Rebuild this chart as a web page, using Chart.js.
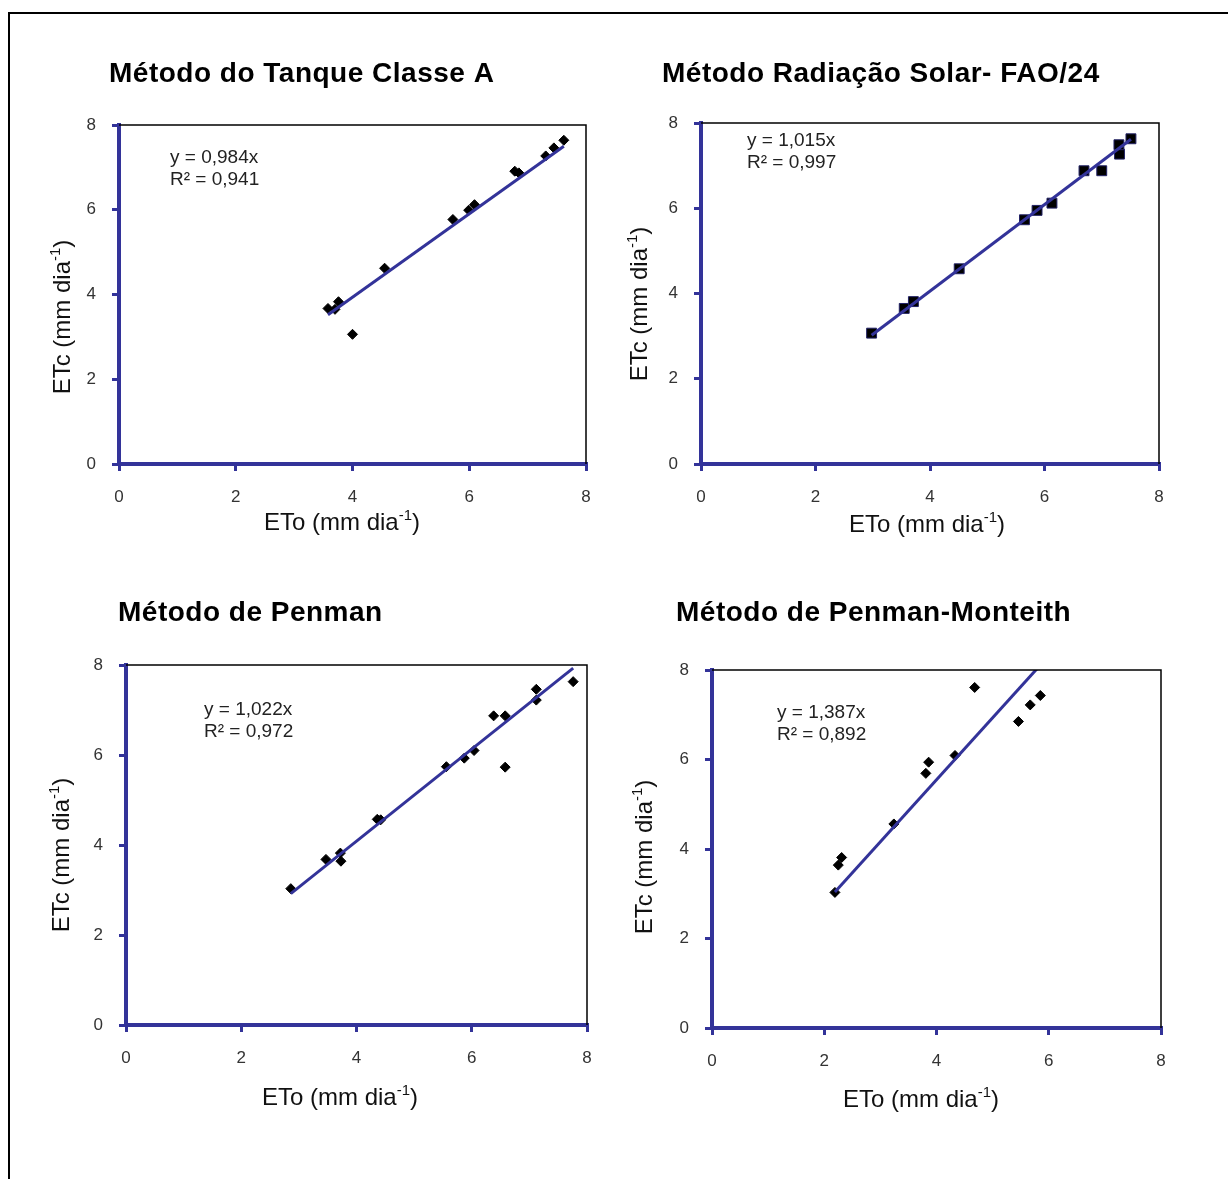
<!DOCTYPE html>
<html>
<head>
<meta charset="utf-8">
<script src="https://cdn.jsdelivr.net/npm/chart.js@4.4.1/dist/chart.umd.min.js"></script>
<style>
  html, body { margin: 0; padding: 0; background: #fff; width: 1228px; height: 1179px; overflow: hidden; }
  #frame { position: absolute; left: 8px; top: 12px; width: 1300px; height: 1300px;
           border-left: 2px solid #000; border-top: 2px solid #000; }
  canvas { position: absolute; }
</style>
</head>
<body>
<div id="frame"></div>
<canvas id="c1"></canvas>
<canvas id="c2"></canvas>
<canvas id="c3"></canvas>
<canvas id="c4"></canvas>
<script>
// ---- data (ETo, ETc in mm/dia) ----
const tanqueX = [3.58, 3.70, 3.76, 4.00, 4.55, 5.72, 5.99, 6.09, 6.78, 6.85, 7.31, 7.45, 7.62];
const tanqueY = [3.67, 3.65, 3.83, 3.06, 4.62, 5.77, 5.99, 6.12, 6.91, 6.87, 7.27, 7.46, 7.64];
const tanqueTrendX = [3.58, 7.62];
const tanqueTrendY = [3.52, 7.50];

const radiacaoX = [2.98, 3.55, 3.71, 4.51, 5.65, 5.87, 6.13, 6.69, 7.00, 7.31, 7.30, 7.51];
const radiacaoY = [3.07, 3.65, 3.81, 4.58, 5.73, 5.95, 6.12, 6.88, 6.88, 7.27, 7.49, 7.63];
const radiacaoTrendX = [2.98, 7.51];
const radiacaoTrendY = [3.02, 7.62];

const penmanX = [2.86, 3.47, 3.72, 3.73, 4.36, 4.42, 5.56, 5.87, 6.04, 6.38, 6.58, 6.58, 7.12, 7.12, 7.76];
const penmanY = [3.03, 3.68, 3.82, 3.64, 4.57, 4.56, 5.74, 5.93, 6.10, 6.87, 6.87, 5.73, 7.46, 7.22, 7.63];
const penmanTrendX = [2.86, 7.76];
const penmanTrendY = [2.92, 7.93];

const monteithX = [2.19, 2.25, 2.31, 3.24, 3.81, 3.86, 4.33, 4.68, 5.46, 5.67, 5.85];
const monteithY = [3.03, 3.64, 3.81, 4.56, 5.69, 5.94, 6.09, 7.61, 6.85, 7.22, 7.43];
const monteithTrendX = [2.19, 5.85];
const monteithTrendY = [3.04, 8.11];

const titles = ['Método do Tanque Classe A', 'Método Radiação Solar- FAO/24',
                'Método de Penman', 'Método de Penman-Monteith'];
const equations = [['y = 0,984x', 'R² = 0,941'], ['y = 1,015x', 'R² = 0,997'],
                   ['y = 1,022x', 'R² = 0,972'], ['y = 1,387x', 'R² = 0,892']];
const xTitle = ['ETo (mm dia', '-1', ')'];
const yTitle = ['ETc (mm dia', '-1', ')'];

const AXIS = '#333399';
const FONT = '"Liberation Sans", Arial, sans-serif';
const PADL = 110, PADT = 85, PADR = 30, PADB = 90;

// plot boxes and text spots on the page
const panels = [
  { id: 'c1', box: [119, 125, 586, 464], title: [109, 74], yt: [63, 317], xt: [342, 523], eq: [170, 158],
    xs: tanqueX, ys: tanqueY, tx: tanqueTrendX, ty: tanqueTrendY, style: 'rectRot' },
  { id: 'c2', box: [701, 123, 1159, 464], title: [662, 74], yt: [640, 304], xt: [927, 525], eq: [747, 141],
    xs: radiacaoX, ys: radiacaoY, tx: radiacaoTrendX, ty: radiacaoTrendY, style: 'rect' },
  { id: 'c3', box: [126, 665, 587, 1025], title: [118, 613], yt: [62, 855], xt: [340, 1098], eq: [204, 710],
    xs: penmanX, ys: penmanY, tx: penmanTrendX, ty: penmanTrendY, style: 'rectRot' },
  { id: 'c4', box: [712, 670, 1161, 1028], title: [676, 613], yt: [645, 857], xt: [921, 1100], eq: [777, 713],
    xs: monteithX, ys: monteithY, tx: monteithTrendX, ty: monteithTrendY, style: 'rectRot' }
];

function supText(ctx, parts, cx, cy, rotate) {
  ctx.save();
  ctx.translate(cx, cy);
  if (rotate) ctx.rotate(-Math.PI / 2);
  const big = '24px ' + FONT, small = '15px ' + FONT;
  ctx.font = big;
  const w1 = ctx.measureText(parts[0]).width, w3 = ctx.measureText(parts[2]).width;
  ctx.font = small;
  const w2 = ctx.measureText(parts[1]).width;
  let x = -(w1 + w2 + w3) / 2;
  ctx.fillStyle = '#111';
  ctx.textAlign = 'left';
  ctx.textBaseline = 'middle';
  ctx.font = big; ctx.fillText(parts[0], x, 0); x += w1;
  ctx.font = small; ctx.fillText(parts[1], x, -7); x += w2;
  ctx.font = big; ctx.fillText(parts[2], x, 0);
  ctx.restore();
}

const panelText = {
  id: 'panelText',
  afterDraw(chart, args, opts) {
    const ctx = chart.ctx, a = chart.chartArea;
    const ox = opts.ox, oy = opts.oy, i = opts.index, p = panels[i];
    ctx.save();
    // thin black box on top and right
    ctx.strokeStyle = '#000';
    ctx.lineWidth = 1.5;
    ctx.beginPath();
    ctx.moveTo(a.left, a.top);
    ctx.lineTo(a.right, a.top);
    ctx.lineTo(a.right, a.bottom);
    ctx.stroke();
    // title
    ctx.fillStyle = '#000';
    ctx.font = 'bold 28px ' + FONT;
    ctx.letterSpacing = '0.5px';
    ctx.textAlign = 'left';
    ctx.textBaseline = 'middle';
    ctx.fillText(titles[i], p.title[0] - ox, p.title[1] - oy);
    ctx.letterSpacing = '0px';
    // equation
    ctx.font = '19px ' + FONT;
    ctx.fillStyle = '#222';
    ctx.fillText(equations[i][0], p.eq[0] - ox, p.eq[1] - oy);
    ctx.fillText(equations[i][1], p.eq[0] - ox, p.eq[1] - oy + 22);
    ctx.restore();
    supText(ctx, xTitle, p.xt[0] - ox, p.xt[1] - oy, false);
    supText(ctx, yTitle, p.yt[0] - ox, p.yt[1] - oy, true);
  }
};

function axis(fit) {
  return {
    type: 'linear', min: 0, max: 8,
    ticks: { stepSize: 2, padding: 16, color: '#333', font: { family: FONT, size: 17 } },
    grid: { display: true, drawOnChartArea: false, drawTicks: true, tickLength: 7, color: AXIS, lineWidth: 3 },
    border: { display: true, color: AXIS, width: 4 },
    title: { display: false },
    afterFit: fit
  };
}

panels.forEach((p, i) => {
  const [L, T, R, B] = p.box;
  const canvas = document.getElementById(p.id);
  const ox = L - PADL, oy = T - PADT;
  canvas.width = (R + PADR) - ox;
  canvas.height = (B + PADB) - oy;
  canvas.style.left = ox + 'px';
  canvas.style.top = oy + 'px';

  const points = p.xs.map((x, k) => ({ x: x, y: p.ys[k] }));
  const trend = p.tx.map((x, k) => ({ x: x, y: p.ty[k] }));

  new Chart(canvas.getContext('2d'), {
    type: 'scatter',
    data: {
      datasets: [
        { type: 'line', data: trend, borderColor: AXIS, borderWidth: 3, pointRadius: 0, fill: false, showLine: true },
        { data: points, pointStyle: p.style, pointRadius: p.style === 'rect' ? 7 : 5,
          backgroundColor: '#000', borderColor: p.style === 'rect' ? '#222266' : '#000', borderWidth: 1 }
      ]
    },
    options: {
      responsive: false,
      animation: false,
      devicePixelRatio: 1,
      layout: { padding: { left: 0, top: PADT, right: PADR, bottom: 0 } },
      plugins: {
        legend: { display: false },
        tooltip: { enabled: false },
        title: { display: false },
        panelText: { ox: ox, oy: oy, index: i }
      },
      scales: {
        x: axis(s => { s.height = PADB; }),
        y: axis(s => { s.width = PADL; })
      }
    },
    plugins: [panelText]
  });
});
</script>
</body>
</html>
